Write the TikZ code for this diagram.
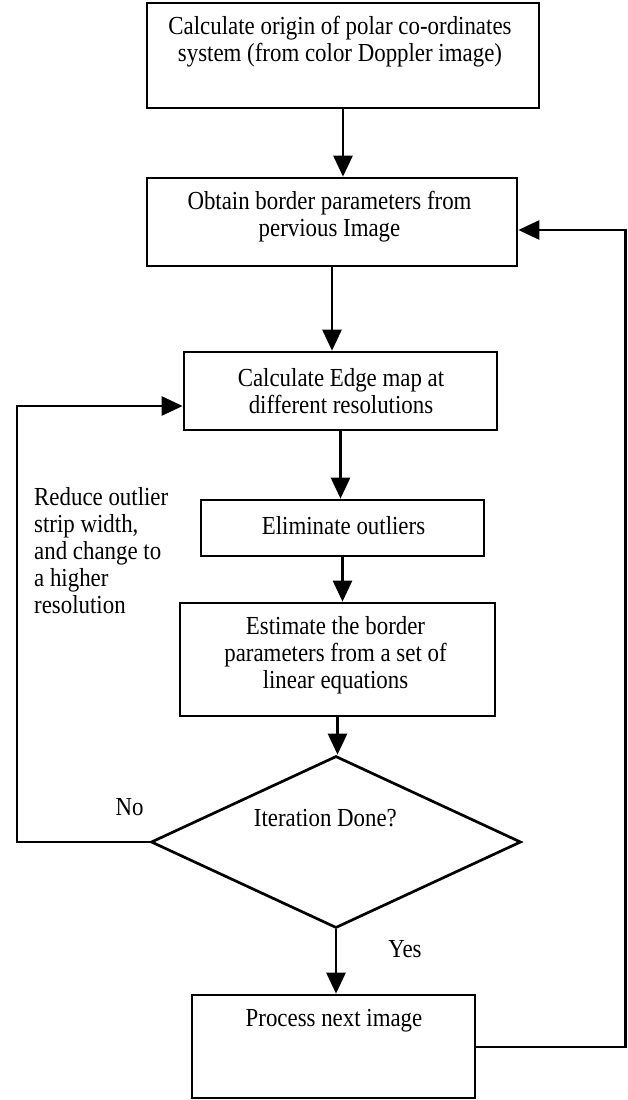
\documentclass[tikz,border=0pt]{standalone}
\usepackage{fontspec}
\setmainfont[FakeStretch=0.88]{Liberation Serif}
\usetikzlibrary{arrows.meta,shapes.geometric}
\tikzset{
  box/.style={draw, line width=2.7pt, rectangle, inner sep=0pt},
  dia/.style={draw, line width=2.7pt, diamond, inner sep=0pt},
  txt/.style={align=center, inner sep=0pt, font=\fontsize{26}{27}\selectfont},
  ltxt/.style={align=left, inner sep=0pt, font=\fontsize{26}{27}\selectfont},
  conn/.style={line width=2.7pt, -{Triangle[width=19pt,length=21pt]}},
  wire/.style={line width=2.7pt}
}
\begin{document}
\begin{tikzpicture}[x=1pt,y=-1pt]
\useasboundingbox (0,0) rectangle (628,1100);
% boxes
\node[box, minimum width=392pt, minimum height=105pt] (b1) at (343,55.5) {};
\node[box, minimum width=370pt, minimum height=88pt] (b2) at (332,222) {};
\node[box, minimum width=313pt, minimum height=78pt] (b3) at (340.5,391) {};
\node[box, minimum width=283pt, minimum height=56pt] (b4) at (342.5,528) {};
\node[box, minimum width=315pt, minimum height=113pt] (b5) at (337.5,659.5) {};
\node[dia, minimum width=370pt, minimum height=172pt] (d) at (336,842) {};
\node[box, minimum width=283pt, minimum height=103pt] (b6) at (333.5,1046.5) {};
% texts
\node[txt] (t1) at (340,42) {Calculate origin of polar co-ordinates\\system (from color Doppler image)};
\node[txt] (t2) at (329.5,217) {Obtain border parameters from\\pervious Image};
\node[txt] (t3) at (341,391) {Calculate Edge map at\\different resolutions};
\node[txt] (t4) at (343.5,526) {Eliminate outliers};
\node[txt] (t5) at (335.5,655) {Estimate the border\\parameters from a set of\\linear equations};
\node[txt] (t6) at (325.4,818) {Iteration Done?};
\node[txt] (t7) at (334,1021) {Process next image};
\node[txt] (no) at (129.6,807) {No};
\node[txt] (yes) at (405,949) {Yes};
\node[ltxt, anchor=west] (side) at (34,551) {Reduce outlier\\strip width,\\and change to\\a higher\\resolution};
% coordinates for loops
\coordinate (rA) at (625.5,1047);
\coordinate (rB) at (625.5,230);
\coordinate (lA) at (17,842);
\coordinate (lB) at (17,406);
% connectors
\draw[conn] (b1.south) -- (b1.south |- b2.north);
\draw[conn] (b2.south) -- (b2.south |- b3.north);
\draw[conn] (b3.south) -- (b3.south |- b4.north);
\draw[conn] (b4.south) -- (b4.south |- b5.north);
\draw[conn] (b5.south) -- (b5.south |- d.north);
\draw[conn] (d.south) -- (d.south |- b6.north);
\draw[conn] (b6.east |- rA) -- (rA) -- (rB) -- (b2.east |- rB);
\draw[conn] (d.west) -- (lA) -- (lB) -- (b3.west |- lB);
\end{tikzpicture}
\end{document}
